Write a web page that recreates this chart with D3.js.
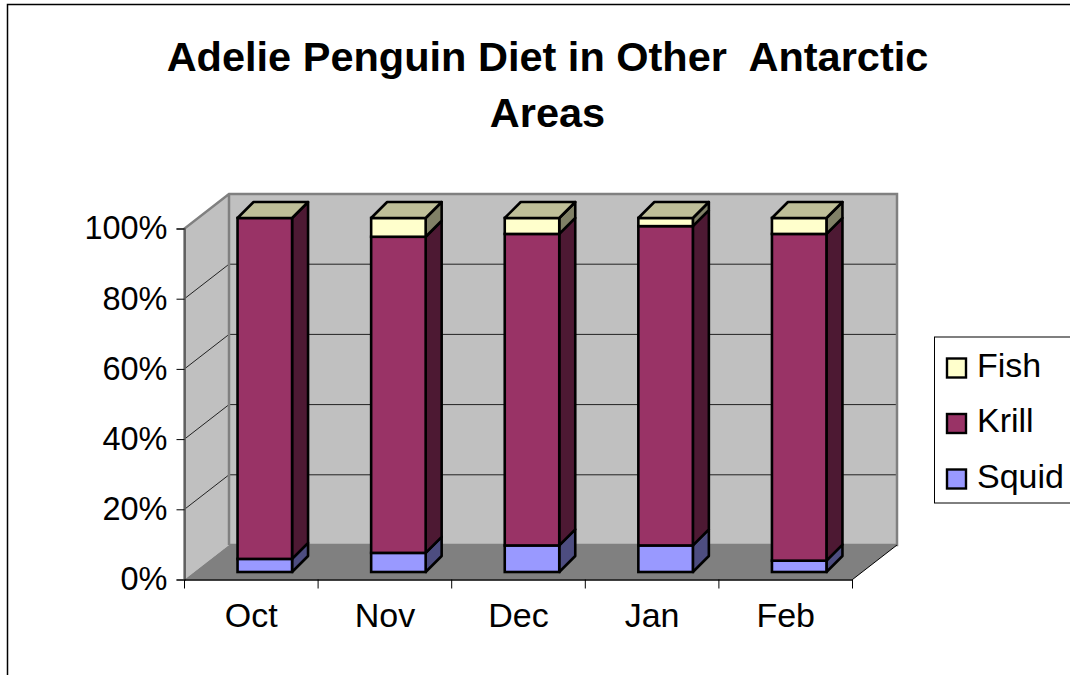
<!DOCTYPE html>
<html>
<head>
<meta charset="utf-8">
<script src="https://cdn.jsdelivr.net/npm/d3@7"></script>
<style>
  html, body { margin: 0; padding: 0; background: #fff; overflow: hidden; }
  text { font-family: "Liberation Sans", Arial, sans-serif; fill: #000; }
</style>
</head>
<body>
<svg id="chart" width="1070" height="675"></svg>
<script>
// values are percent of diet
var months = ["Oct", "Nov", "Dec", "Jan", "Feb"];
var squid = [3.7, 5.4, 7.5, 7.5, 3.2];
var krill = [96.3, 89.3, 88.0, 90.2, 92.3];
var fish = [0, 5.3, 4.5, 2.3, 4.5];
var seriesNames = ["Squid", "Krill", "Fish"];
var percentTicks = [0, 20, 40, 60, 80, 100];
var titleLines = ["Adelie Penguin Diet in Other  Antarctic", "Areas"];

var colors = { Squid: "#9999ff", Krill: "#993366", Fish: "#ffffcc" };
var sideColors = { Squid: "#4d4d80", Krill: "#4d1933", Fish: "#808066" };
var topColor = "#bfbf99";

var svg = d3.select("#chart");

// chart frame
svg.append("path")
    .attr("d", "M7.5,675V4.5H1070")
    .attr("fill", "none")
    .attr("stroke", "#000")
    .attr("stroke-width", 1.5);

// title
svg.append("g").selectAll("text")
    .data(titleLines)
  .enter().append("text")
    .attr("x", 547.5)
    .attr("y", function(d, i) { return 71 + i * 56; })
    .attr("text-anchor", "middle")
    .attr("font-size", 41.5)
    .attr("font-weight", "bold")
    .style("white-space", "pre")
    .text(function(d) { return d; });

// box geometry
var left = 184.5, right = 852.5;
var depthX = 44.5, depthY = -34.5;
var barDepth = 16;

var yAxisScale = d3.scaleLinear().domain([0, 100]).range([579.5, 228.5]);
var yBar = d3.scaleLinear().domain([0, 100]).range([572, 218]);

var xAxisScale = d3.scaleBand().domain(months).range([left, right]);
var xBar = d3.scaleBand().domain(months)
    .range([left + 13.5, right + 13.5])
    .paddingInner(0.592)
    .paddingOuter(0.296);

// walls and floor
var wall = svg.append("g");
var y0 = yAxisScale(0), y100 = yAxisScale(100);

wall.append("path")
    .attr("d", d3.line()([[left + depthX, y100 + depthY], [right + depthX, y100 + depthY],
      [right + depthX, y0 + depthY], [left + depthX, y0 + depthY]]) + "Z")
    .attr("fill", "#c0c0c0");
wall.append("path")
    .attr("d", d3.line()([[left, y100], [left + depthX, y100 + depthY],
      [left + depthX, y0 + depthY], [left, y0]]) + "Z")
    .attr("fill", "#c0c0c0");
wall.append("path")
    .attr("d", d3.line()([[left, y0], [left + depthX, y0 + depthY],
      [right + depthX, y0 + depthY], [right, y0]]) + "Z")
    .attr("fill", "#808080");

// gridlines on side wall and back wall
wall.selectAll(".grid")
    .data(percentTicks.slice(1, 5))
  .enter().append("path")
    .attr("class", "grid")
    .attr("d", function(d) {
      var y = yAxisScale(d);
      return d3.line()([[left, y], [left + depthX, y + depthY], [right + depthX, y + depthY]]);
    })
    .attr("fill", "none")
    .attr("stroke", "#222")
    .attr("stroke-width", 1);

// wall outlines
wall.append("path")
    .attr("d", d3.line()([[left, y0], [left, y100], [left + depthX, y100 + depthY],
      [right + depthX, y100 + depthY], [right + depthX, y0 + depthY], [left + depthX, y0 + depthY]])
      + "M" + (left + depthX) + "," + (y100 + depthY) + "V" + (y0 + depthY))
    .attr("fill", "none")
    .attr("stroke", "#808080")
    .attr("stroke-width", 2.5);
wall.append("path")
    .attr("d", d3.line()([[right + depthX, y0 + depthY], [right, y0]]))
    .attr("stroke", "#000")
    .attr("stroke-width", 1);

// axes
var yAxis = d3.axisLeft(yAxisScale)
    .tickValues(percentTicks)
    .tickFormat(function(d) { return d + "%"; })
    .tickSize(8)
    .tickPadding(9);
var xAxis = d3.axisBottom(xAxisScale)
    .tickSizeInner(0)
    .tickSizeOuter(0)
    .tickPadding(23);

var gy = svg.append("g").attr("transform", "translate(" + left + ",0)").call(yAxis);
gy.select(".domain").attr("stroke", "#555").attr("stroke-width", 1.5);
gy.selectAll("text").attr("font-size", 32.5).attr("fill", "#000").attr("font-family", "Liberation Sans");

var gx = svg.append("g").attr("transform", "translate(0," + y0 + ")").call(xAxis);
gx.select(".domain").attr("stroke", "#000").attr("stroke-width", 1.5);
gx.selectAll("text").attr("font-size", 34).attr("fill", "#000").attr("font-family", "Liberation Sans");
gx.selectAll(".cat-tick")
    .data(months.concat(["end"]))
  .enter().append("line")
    .attr("class", "cat-tick")
    .attr("x1", function(d) { return d === "end" ? right : xAxisScale(d); })
    .attr("x2", function(d) { return d === "end" ? right : xAxisScale(d); })
    .attr("y2", 9)
    .attr("stroke", "#000");

// stacked bars
var table = months.map(function(m, i) {
  return { month: m, Squid: squid[i], Krill: krill[i], Fish: fish[i] };
});
var stacked = d3.stack().keys(seriesNames)(table);

var barDx = barDepth, barDy = -barDepth;

var bars = svg.append("g").selectAll("g")
    .data(months)
  .enter().append("g");

bars.each(function(m, i) {
  var g = d3.select(this);
  var x1 = xBar(m), x2 = x1 + xBar.bandwidth();

  stacked.forEach(function(s) {
    var name = s.key;
    var yb = yBar(s[i][0]), yt = yBar(s[i][1]);
    if (s[i][1] === s[i][0]) return;

    g.append("path")
        .attr("d", d3.line()([[x2, yb], [x2 + barDx, yb + barDy], [x2 + barDx, yt + barDy], [x2, yt]]) + "Z")
        .attr("fill", sideColors[name])
        .attr("stroke", "#000")
        .attr("stroke-width", 2.6)
        .attr("stroke-linejoin", "round");

    g.append("rect")
        .attr("x", x1)
        .attr("y", yt)
        .attr("width", x2 - x1)
        .attr("height", yb - yt)
        .attr("fill", colors[name])
        .attr("stroke", "#000")
        .attr("stroke-width", 2.6);
  });

  var yt = yBar(100);
  g.append("path")
      .attr("d", d3.line()([[x1, yt], [x1 + barDx, yt + barDy], [x2 + barDx, yt + barDy], [x2, yt]]) + "Z")
      .attr("fill", topColor)
      .attr("stroke", "#000")
      .attr("stroke-width", 2.6)
      .attr("stroke-linejoin", "round");
});

// legend
var legend = svg.append("g");
legend.append("rect")
    .attr("x", 934.5)
    .attr("y", 337)
    .attr("width", 150)
    .attr("height", 166)
    .attr("fill", "#fff")
    .attr("stroke", "#000")
    .attr("stroke-width", 1);

var legendItems = legend.selectAll(".item")
    .data(seriesNames.slice().reverse())
  .enter().append("g")
    .attr("class", "item")
    .attr("transform", function(d, i) { return "translate(947," + (358.5 + i * 55.5) + ")"; });

legendItems.append("rect")
    .attr("width", 19)
    .attr("height", 19)
    .attr("fill", function(d) { return colors[d]; })
    .attr("stroke", "#000")
    .attr("stroke-width", 2.4);

legendItems.append("text")
    .attr("x", 30)
    .attr("y", 18)
    .attr("font-size", 34)
    .text(function(d) { return d; });
</script>
</body>
</html>
